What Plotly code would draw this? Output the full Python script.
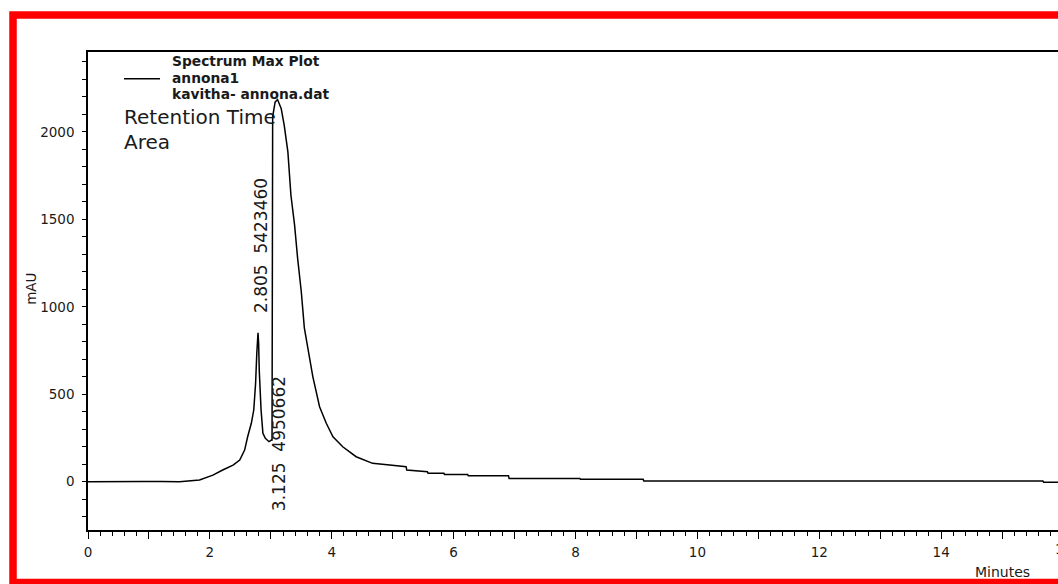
import plotly.graph_objects as go

# ---- data ----
time_min = [0.0, 0.3, 0.6, 0.9, 1.2, 1.5, 1.83, 2.05, 2.21, 2.38, 2.49, 2.57, 2.62, 2.68,
            2.72, 2.75, 2.77, 2.79, 2.80, 2.81, 2.84, 2.87, 2.91, 2.97, 3.01, 3.02, 3.03,
            3.07, 3.11, 3.17, 3.22, 3.28, 3.33, 3.39, 3.44, 3.50, 3.55, 3.61, 3.69, 3.80,
            3.91, 4.02, 4.18, 4.40, 4.67, 4.95, 5.22, 5.23, 5.49, 5.57, 5.58, 5.84, 5.85,
            6.23, 6.24, 6.90, 6.91, 8.07, 8.08, 9.11, 9.12, 15.67, 15.68, 15.92]
mau = [0, 2, 1, 2, 1, 0, 10, 38, 67, 95, 124, 181, 257, 334,
       410, 562, 734, 851, 792, 638, 410, 277, 248, 229, 238, 238, 2086,
       2170, 2185, 2134, 2038, 1886, 1638, 1467, 1277, 1086, 880, 760, 600, 429,
       334, 257, 200, 143, 105, 95, 86, 67, 57, 57, 48, 48, 42,
       42, 34, 34, 19, 19, 14, 14, 4, 4, -3, -3]

peak_rt = [2.805, 3.125]
peak_area = [5423460, 4950662]

x_ticks = list(range(0, 17))
x_tick_text = [str(v) if v % 2 == 0 else "" for v in x_ticks]
y_ticks = [0, 500, 1000, 1500, 2000]
y_tick_text = ["0", "500", "1000", "1500", "2000"]

legend_title = "Spectrum Max Plot"
trace_name = "annona1"
file_name = "kavitha- annona.dat"
info_lines = ["Retention Time", "Area"]

# ---- layout geometry (pixels) ----
W, H = 1058, 584
L, R, T, B = 88, 0, 52, 54
PW, PH = W - L - R, H - T - B
px_per_min = 60.94


def px(xp):
    return (xp - L) / PW


def py(yp):
    return (H - B - yp) / PH


FONT = "DejaVu Sans"
TXT = "#1a1a1a"

fig = go.Figure()
fig.add_trace(go.Scatter(x=time_min, y=mau, mode="lines", name=trace_name,
                         line=dict(color="black", width=1.5), showlegend=False))

annotations = []
# peak labels (rotated)
label_y = [952, -180]
label_xshift = [1.4, 0]
for rt, area, yv, xs in zip(peak_rt, peak_area, label_y, label_xshift):
    annotations.append(dict(x=rt, y=yv, xref="x", yref="y",
                            text=f"{rt:.3f}\u00a0\u00a0{area}", textangle=-90,
                            showarrow=False, xanchor="center", yanchor="bottom",
                            xshift=xs, font=dict(family=FONT, size=17, color=TXT)))

# retention time / area header
for txt, yp in zip(info_lines, [117.2, 141.7]):
    annotations.append(dict(x=px(122), y=py(yp), xref="paper", yref="paper", text=txt,
                            showarrow=False, xanchor="left", yanchor="middle",
                            font=dict(family=FONT, size=20, color=TXT)))

# legend block
for txt, yp in zip([legend_title, trace_name, file_name], [61, 77.5, 94]):
    annotations.append(dict(x=px(170), y=py(yp), xref="paper", yref="paper",
                            text=f"<b>{txt}</b>", showarrow=False,
                            xanchor="left", yanchor="middle",
                            font=dict(family=FONT, size=13.8, color=TXT)))

# axis titles
annotations.append(dict(x=px(1002.5), y=py(571.7), xref="paper", yref="paper",
                        text="Minutes", showarrow=False, xanchor="center", yanchor="middle",
                        font=dict(family=FONT, size=14, color=TXT)))
annotations.append(dict(x=px(30.8), y=py(289), xref="paper", yref="paper",
                        text="mAU", textangle=-90, showarrow=False,
                        xanchor="center", yanchor="middle",
                        font=dict(family=FONT, size=13.5, color=TXT)))
# partially visible last tick label (cut by the right edge, as in the original)
annotations.append(dict(x=px(L + 16 * px_per_min), y=py(548.8), xref="paper", yref="paper",
                        text="16", showarrow=False, xanchor="center", yanchor="middle",
                        font=dict(family=FONT, size=13.5, color=TXT)))

shapes = [
    # legend line sample
    dict(type="line", xref="paper", yref="paper", x0=px(124), x1=px(160),
         y0=py(78.7), y1=py(78.7), line=dict(color="black", width=1.5)),
    # red frame
    dict(type="rect", xref="paper", yref="paper", x0=px(13), x1=px(1075),
         y0=py(582.5), y1=py(15), line=dict(color="#ff0000", width=7.5),
         fillcolor="rgba(0,0,0,0)", layer="above"),
]

x_max = (W - L - R) / px_per_min

fig.update_layout(
    width=W, height=H,
    margin=dict(l=L, r=R, t=T, b=B, autoexpand=False),
    paper_bgcolor="white", plot_bgcolor="white",
    font=dict(family=FONT, size=13.5, color=TXT),
    showlegend=False,
    annotations=annotations,
    shapes=shapes,
    xaxis=dict(range=[0, x_max], tickvals=x_ticks, ticktext=x_tick_text,
               ticks="outside", ticklen=7, tickwidth=1, tickcolor="black",
               minor=dict(dtick=0.2, tick0=0, ticks="outside", ticklen=4,
                          tickwidth=1, tickcolor="black"),
               showline=True, linecolor="black", linewidth=1.5, mirror=True,
               showgrid=False, zeroline=False, ticklabelstandoff=2,
               tickfont=dict(family=FONT, size=13.5, color=TXT)),
    yaxis=dict(range=[-276, 2457], tickvals=y_ticks, ticktext=y_tick_text,
               ticks="outside", ticklen=4, tickwidth=1, tickcolor="black",
               minor=dict(dtick=100, tick0=0, ticks="outside", ticklen=4,
                          tickwidth=1, tickcolor="black"),
               showline=True, linecolor="black", linewidth=1.5, mirror=False,
               showgrid=False, zeroline=False, ticklabelstandoff=5,
               tickfont=dict(family=FONT, size=13.5, color=TXT)),
)

fig.write_html("out.html", config={"displayModeBar": False},
               post_script="document.body.style.margin='0';document.body.style.overflow='hidden';")
